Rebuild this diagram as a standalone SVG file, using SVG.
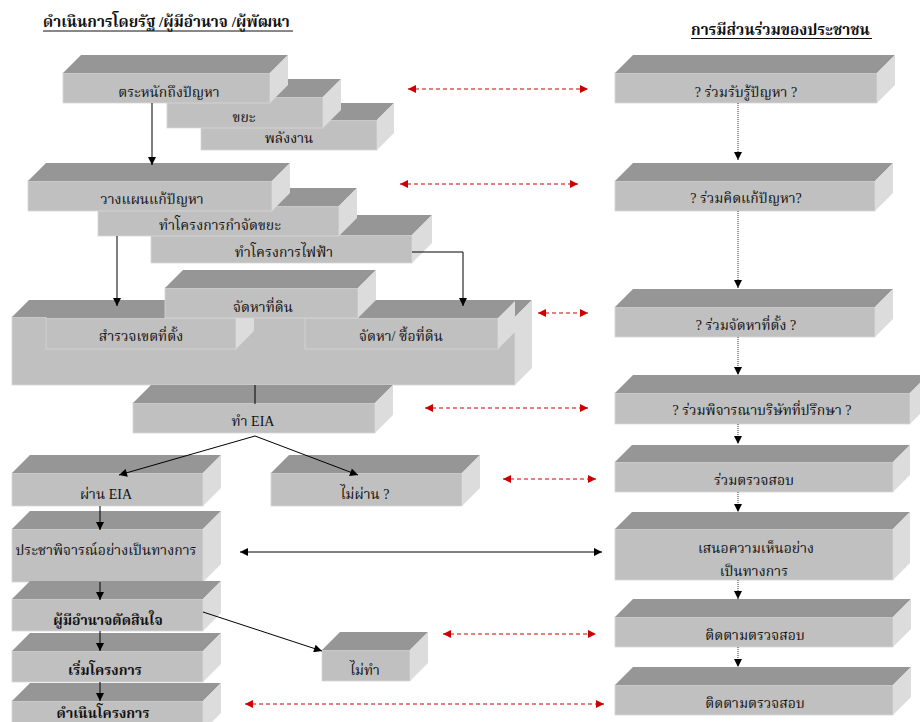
<svg xmlns="http://www.w3.org/2000/svg" width="920" height="722" viewBox="0 0 920 722">
<style>
.f{fill:#c0c0c0;stroke:#d6d6d6;stroke-width:0.8}
.t{fill:#969696}
.s{fill:#dcdcdc}
text{font-family:"Liberation Serif","Noto Serif Thai","Noto Sans Thai",serif;font-size:14px;fill:#111;text-anchor:middle}
.b{font-weight:bold}
.h{font-weight:bold;text-anchor:start;font-size:15.3px}
.k{stroke:#000;stroke-width:1;fill:none}
.r{stroke:#cc0000;stroke-width:1;stroke-dasharray:4 3;fill:none}
.d{stroke:#333;stroke-width:1;stroke-dasharray:1 1;fill:none}
</style>
<defs>
<marker id="ak" viewBox="0 0 10 10" refX="10" refY="5" markerWidth="9" markerHeight="8" markerUnits="userSpaceOnUse" orient="auto-start-reverse"><path d="M0,0 L10,5 L0,10 z" fill="#000"/></marker>
<marker id="ar" viewBox="0 0 10 10" refX="10" refY="5" markerWidth="9" markerHeight="8" markerUnits="userSpaceOnUse" orient="auto-start-reverse"><path d="M0,0 L10,5 L0,10 z" fill="#cc0000"/></marker>
</defs>
<rect width="920" height="722" fill="#fff"/>

<g id="headers">
<text class="h" x="43" y="27">ดำเนินการโดยรัฐ /ผู้มีอำนาจ /ผู้พัฒนา</text>
<line x1="43" y1="31" x2="293" y2="31" stroke="#111" stroke-width="1"/>
<text class="h" x="691" y="35">การมีส่วนร่วมของประชาชน</text>
<line x1="691" y1="38.5" x2="872" y2="38.5" stroke="#111" stroke-width="1"/>
</g>

<g id="n-energy"><rect class="f" x="201" y="120" width="176" height="30"/><polygon class="t" points="201,120 218,103 394,103 377,120"/><polygon class="s" points="377,120 394,103 394,133 377,150"/><text x="289" y="143">พลังงาน</text></g>
<g id="n-waste"><rect class="f" x="167" y="97" width="156" height="31"/><polygon class="t" points="167,97 185,79 341,79 323,97"/><polygon class="s" points="323,97 341,79 341,110 323,128"/><text x="244" y="122">ขยะ</text></g>
<g id="n-aware"><rect class="f" x="63" y="73" width="207" height="30"/><polygon class="t" points="63,73 81,55 288,55 270,73"/><polygon class="s" points="270,73 288,55 288,85 270,103"/><text x="169" y="97">ตระหนักถึงปัญหา</text></g>

<g id="n-power"><rect class="f" x="151" y="235" width="261" height="28"/><polygon class="t" points="151,235 171,215 432,215 412,235"/><polygon class="s" points="412,235 432,215 432,243 412,263"/><text x="284" y="257">ทำโครงการไฟฟ้า</text></g>
<g id="n-wasteproj"><rect class="f" x="98" y="206" width="241" height="30"/><polygon class="t" points="98,206 116,188 357,188 339,206"/><polygon class="s" points="339,206 357,188 357,218 339,236"/><text x="220" y="230">ทำโครงการกำจัดขยะ</text></g>
<g id="n-plan"><rect class="f" x="28" y="181" width="244" height="30"/><polygon class="t" points="28,181 46,163 290,163 272,181"/><polygon class="s" points="272,181 290,163 290,193 272,211"/><text x="152" y="204">วางแผนแก้ปัญหา</text></g>

<g id="n-landbase"><rect class="f" x="12" y="317" width="503" height="68"/><polygon class="t" points="12,317 29,300 532,300 515,317"/><polygon class="s" points="515,317 532,300 532,368 515,385"/></g>
<g id="n-survey"><rect class="f" x="46" y="318" width="190" height="31"/><polygon class="t" points="46,318 64,300 254,300 236,318"/><polygon class="s" points="236,318 254,300 254,331 236,349"/><text x="141" y="341">สำรวจเขตที่ตั้ง</text></g>
<g id="n-buy"><rect class="f" x="305" y="318" width="193" height="31"/><polygon class="t" points="305,318 322,301 515,301 498,318"/><polygon class="s" points="498,318 515,301 515,332 498,349"/><text x="401" y="341">จัดหา/ ซื้อที่ดิน</text></g>
<g id="n-land"><rect class="f" x="165" y="288" width="193" height="30"/><polygon class="t" points="165,288 183,270 376,270 358,288"/><polygon class="s" points="358,288 376,270 376,300 358,318"/><text x="263" y="312">จัดหาที่ดิน</text></g>

<g id="n-eia"><rect class="f" x="133" y="403" width="242" height="30"/><polygon class="t" points="133,403 151,385 393,385 375,403"/><polygon class="s" points="375,403 393,385 393,415 375,433"/><text x="253" y="426">ทำ EIA</text></g>
<g id="n-pass"><rect class="f" x="12" y="473" width="191" height="33"/><polygon class="t" points="12,473 30,455 221,455 203,473"/><polygon class="s" points="203,473 221,455 221,488 203,506"/><text x="106" y="499">ผ่าน EIA</text></g>
<g id="n-fail"><rect class="f" x="271" y="473" width="191" height="33"/><polygon class="t" points="271,473 289,455 480,455 462,473"/><polygon class="s" points="462,473 480,455 480,488 462,506"/><text x="365" y="499">ไม่ผ่าน ?</text></g>
<g id="n-hearing"><rect class="f" x="12" y="529" width="191" height="53"/><polygon class="t" points="12,529 30,511 221,511 203,529"/><polygon class="s" points="203,529 221,511 221,564 203,582"/><text x="106" y="555">ประชาพิจารณ์อย่างเป็นทางการ</text></g>
<g id="n-decide"><rect class="f" x="12" y="599" width="191" height="32"/><polygon class="t" points="12,599 30,581 221,581 203,599"/><polygon class="s" points="203,599 221,581 221,613 203,631"/><text class="b" x="108" y="625">ผู้มีอำนาจตัดสินใจ</text></g>
<g id="n-start"><rect class="f" x="12" y="651" width="191" height="31"/><polygon class="t" points="12,651 30,633 221,633 203,651"/><polygon class="s" points="203,651 221,633 221,664 203,682"/><text class="b" x="105" y="675">เริ่มโครงการ</text></g>
<g id="n-run"><rect class="f" x="12" y="701" width="191" height="30"/><polygon class="t" points="12,701 30,683 221,683 203,701"/><polygon class="s" points="203,701 221,683 221,713 203,731"/><text class="b" x="103" y="718">ดำเนินโครงการ</text></g>
<g id="n-notdo"><rect class="f" x="322" y="650" width="88" height="31"/><polygon class="t" points="322,650 340,632 428,632 410,650"/><polygon class="s" points="410,650 428,632 428,663 410,681"/><text x="365" y="675">ไม่ทำ</text></g>

<g id="p-aware"><rect class="f" x="615" y="73" width="262" height="30"/><polygon class="t" points="615,73 633,55 895,55 877,73"/><polygon class="s" points="877,73 895,55 895,85 877,103"/><text x="746" y="97">? ร่วมรับรู้ปัญหา ?</text></g>
<g id="p-think"><rect class="f" x="615" y="181" width="260" height="30"/><polygon class="t" points="615,181 633,163 893,163 875,181"/><polygon class="s" points="875,181 893,163 893,193 875,211"/><text x="746" y="203">? ร่วมคิดแก้ปัญหา?</text></g>
<g id="p-site"><rect class="f" x="615" y="307" width="260" height="30"/><polygon class="t" points="615,307 633,289 893,289 875,307"/><polygon class="s" points="875,307 893,289 893,319 875,337"/><text x="746" y="330">? ร่วมจัดหาที่ตั้ง ?</text></g>
<g id="p-consult"><rect class="f" x="615" y="393" width="295" height="31"/><polygon class="t" points="615,393 633,375 928,375 910,393"/><polygon class="s" points="910,393 928,375 928,406 910,424"/><text x="762" y="415">? ร่วมพิจารณาบริษัทที่ปรึกษา ?</text></g>
<g id="p-check"><rect class="f" x="615" y="462" width="278" height="30"/><polygon class="t" points="615,462 632,445 910,445 893,462"/><polygon class="s" points="893,462 910,445 910,475 893,492"/><text x="754" y="485">ร่วมตรวจสอบ</text></g>
<g id="p-opinion"><rect class="f" x="615" y="529" width="278" height="51"/><polygon class="t" points="615,529 632,512 910,512 893,529"/><polygon class="s" points="893,529 910,512 910,563 893,580"/><text x="756" y="553">เสนอความเห็นอย่าง</text><text x="754" y="576">เป็นทางการ</text></g>
<g id="p-follow1"><rect class="f" x="615" y="617" width="278" height="30"/><polygon class="t" points="615,617 633,599 911,599 893,617"/><polygon class="s" points="893,617 911,599 911,629 893,647"/><text x="755" y="640">ติดตามตรวจสอบ</text></g>
<g id="p-follow2"><rect class="f" x="615" y="685" width="278" height="30"/><polygon class="t" points="615,685 633,667 911,667 893,685"/><polygon class="s" points="893,685 911,667 911,697 893,715"/><text x="755" y="708">ติดตามตรวจสอบ</text></g>

<g id="connectors">
<line class="k" x1="152" y1="103" x2="152" y2="165" marker-end="url(#ak)"/>
<line class="k" x1="117" y1="236" x2="117" y2="306" marker-end="url(#ak)"/>
<polyline class="k" stroke-width="1.5" points="412,252 463,252 463,306" marker-end="url(#ak)"/>
<line class="k" stroke-width="2" x1="255" y1="385" x2="255" y2="404"/>
<line class="k" x1="255" y1="436" x2="119" y2="475" marker-end="url(#ak)"/>
<line class="k" x1="255" y1="436" x2="358" y2="475" marker-end="url(#ak)"/>
<line class="k" x1="100" y1="506" x2="100" y2="530" marker-end="url(#ak)"/>
<line class="k" x1="100" y1="582" x2="100" y2="600" marker-end="url(#ak)"/>
<line class="k" x1="100" y1="631" x2="100" y2="651" marker-end="url(#ak)"/>
<line class="k" x1="100" y1="682" x2="100" y2="701" marker-end="url(#ak)"/>
<line class="k" x1="203" y1="612" x2="322" y2="651" marker-end="url(#ak)"/>
<line class="k" x1="240" y1="552" x2="602" y2="552" marker-start="url(#ak)" marker-end="url(#ak)"/>

<line class="r" x1="408" y1="89" x2="588" y2="89" marker-start="url(#ar)" marker-end="url(#ar)"/>
<line class="r" x1="400" y1="184" x2="578" y2="184" marker-start="url(#ar)" marker-end="url(#ar)"/>
<line class="r" x1="538" y1="313" x2="588" y2="313" marker-start="url(#ar)" marker-end="url(#ar)"/>
<line class="r" x1="425" y1="408" x2="588" y2="408" marker-start="url(#ar)" marker-end="url(#ar)"/>
<line class="r" x1="503" y1="479" x2="596" y2="479" marker-start="url(#ar)" marker-end="url(#ar)"/>
<line class="r" x1="443" y1="634" x2="596" y2="634" marker-start="url(#ar)" marker-end="url(#ar)"/>
<line class="r" x1="245" y1="704" x2="604" y2="704" marker-start="url(#ar)" marker-end="url(#ar)"/>

<line class="d" x1="738" y1="103" x2="738" y2="160" marker-end="url(#ak)"/>
<line class="d" x1="738" y1="211" x2="738" y2="288" marker-end="url(#ak)"/>
<line class="d" x1="738" y1="337" x2="738" y2="375" marker-end="url(#ak)"/>
<line class="d" x1="738" y1="424" x2="738" y2="444" marker-end="url(#ak)"/>
<line class="d" x1="738" y1="492" x2="738" y2="512" marker-end="url(#ak)"/>
<line class="d" x1="738" y1="580" x2="738" y2="599" marker-end="url(#ak)"/>
<line class="d" x1="738" y1="647" x2="738" y2="667" marker-end="url(#ak)"/>
</g>
</svg>
